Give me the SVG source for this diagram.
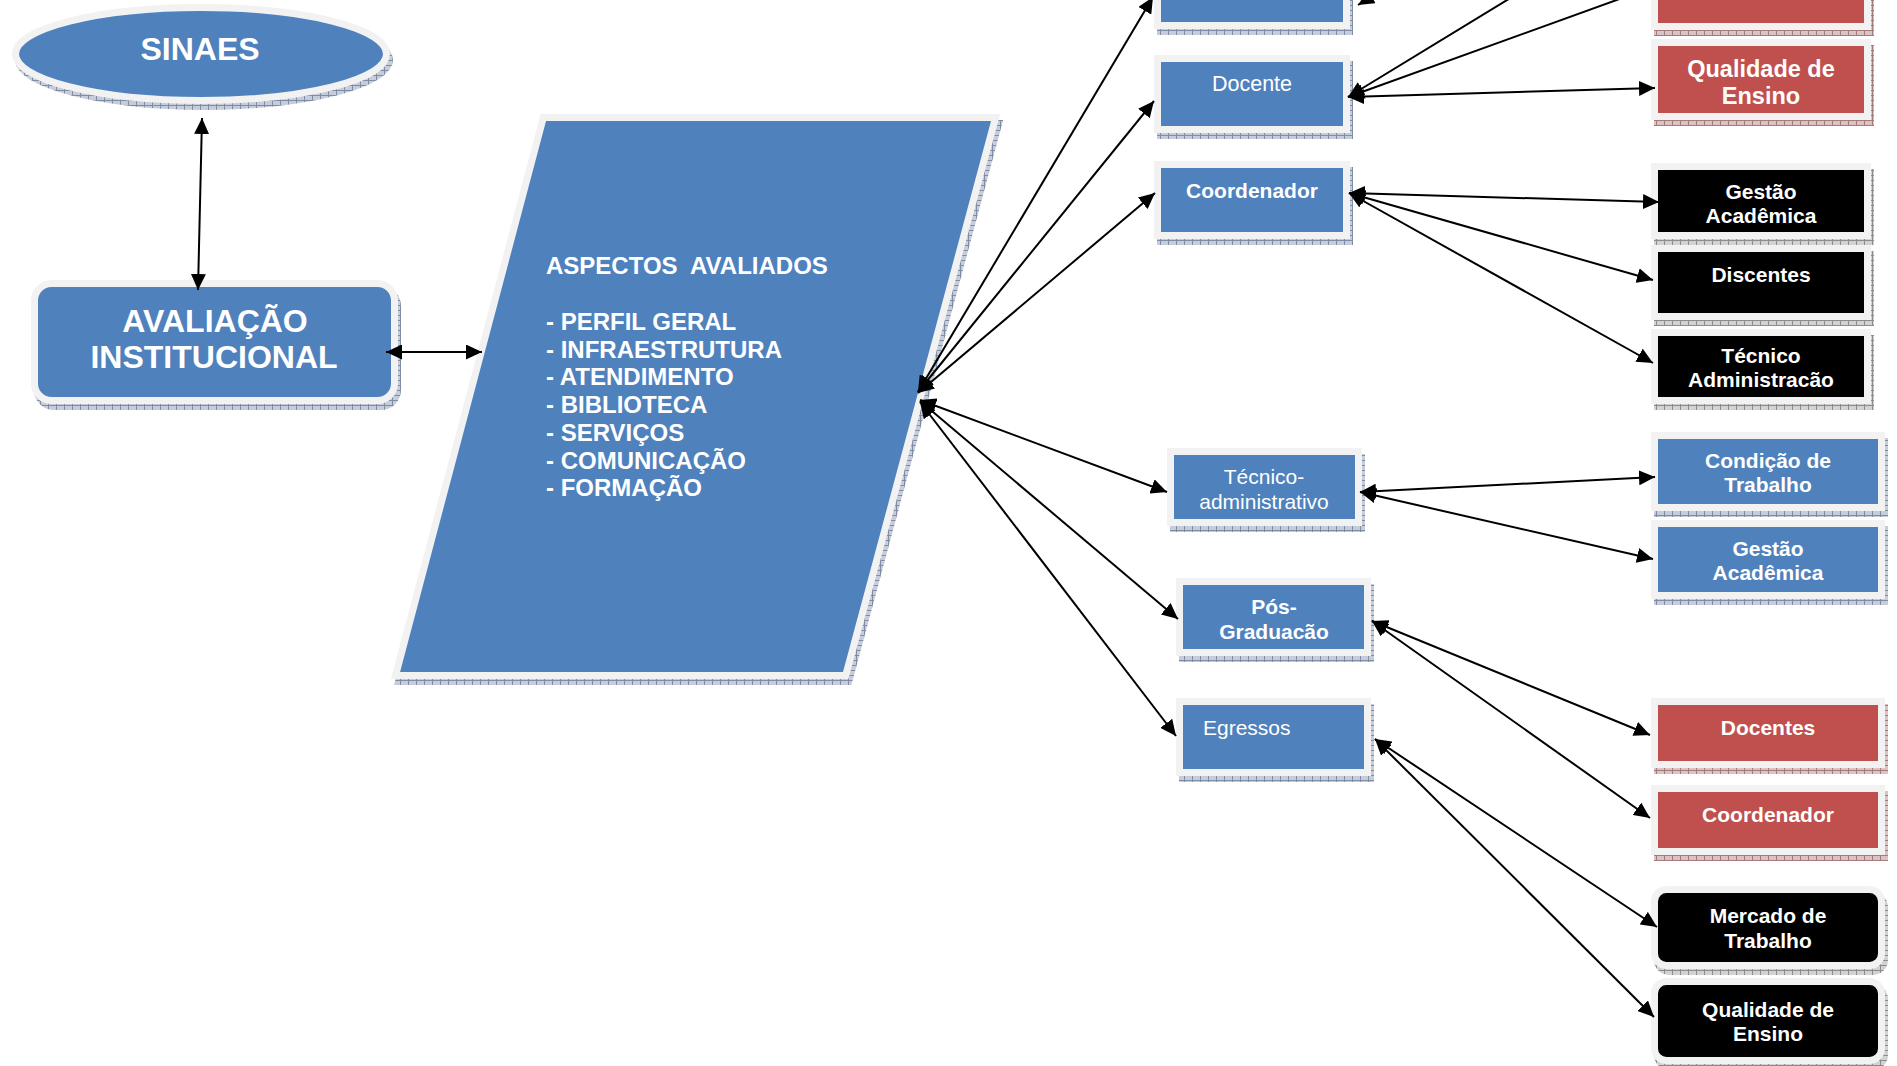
<svg xmlns="http://www.w3.org/2000/svg" width="1897" height="1066" viewBox="0 0 1897 1066">
<defs>
<style>
text{font-family:"Liberation Sans",Arial,sans-serif;fill:#fff;text-anchor:middle}
.b{font-weight:bold}
.s21{font-size:21px}
.bx{stroke:#f2f2f2;stroke-width:7}
.blue{fill:#4f81bd}.red{fill:#c0504d}.blk{fill:#000}
.shb{fill:url(#hb)}.shr{fill:url(#hr)}.shk{fill:url(#hk)}
.c{stroke:#000;stroke-width:2;fill:none;marker-start:url(#ah);marker-end:url(#ah)}
.l{text-anchor:start}
</style>
<pattern id="hb" width="8" height="5" patternUnits="userSpaceOnUse"><rect width="8" height="5" fill="#c6ccd9"/><path d="M0.5,0V5M0,0.5H8" stroke="#7f8ca6" stroke-width="1"/></pattern>
<pattern id="hr" width="8" height="5" patternUnits="userSpaceOnUse"><rect width="8" height="5" fill="#dcc3c3"/><path d="M0.5,0V5M0,0.5H8" stroke="#a67a7a" stroke-width="1"/></pattern>
<pattern id="hk" width="8" height="5" patternUnits="userSpaceOnUse"><rect width="8" height="5" fill="#d2d2d2"/><path d="M0.5,0V5M0,0.5H8" stroke="#8c8c8c" stroke-width="1"/></pattern>
<marker id="ah" viewBox="0 0 16 15" refX="16" refY="7.5" markerWidth="16" markerHeight="15" markerUnits="userSpaceOnUse" orient="auto-start-reverse"><path d="M0,0L16,7.5L0,15z" fill="#000"/></marker>
</defs>

<g id="sinaes">
<ellipse class="shb" cx="204" cy="60" rx="189" ry="50"/>
<ellipse class="bx blue" cx="201" cy="54" rx="185.5" ry="46.5"/>
<text class="b" x="200" y="60" font-size="32">SINAES</text>
</g>

<g id="avaliacao">
<rect class="shb" x="34" y="286" width="367" height="124" rx="20"/>
<rect class="bx blue" x="34.5" y="283.5" width="360" height="117" rx="17"/>
<text class="b" x="215" y="332" font-size="32">AVALIAÇÃO</text>
<text class="b" x="214" y="368" font-size="32">INSTITUCIONAL</text>
</g>

<g id="aspectos">
<polygon class="shb" points="543.6,120 1003.2,120 851.4,685 394,685"/>
<polygon class="bx blue" points="543.3,117.5 995.6,117.5 845.7,675.5 395.5,675.5" stroke-linejoin="miter"/>
<g class="b" font-size="24">
<text class="l" x="546" y="274" style="white-space:pre">ASPECTOS  AVALIADOS</text>
<text class="l" x="546" y="330">- PERFIL GERAL</text>
<text class="l" x="546" y="357.7">- INFRAESTRUTURA</text>
<text class="l" x="546" y="385.4">- ATENDIMENTO</text>
<text class="l" x="546" y="413.1">- BIBLIOTECA</text>
<text class="l" x="546" y="440.8">- SERVIÇOS</text>
<text class="l" x="546" y="468.5">- COMUNICAÇÃO</text>
<text class="l" x="546" y="496.2">- FORMAÇÃO</text>
</g>
</g>

<g id="top-blue">
<rect class="shb" x="1157" y="-47" width="196" height="82"/>
<rect class="bx blue" x="1157.5" y="-49.5" width="189" height="75"/>
</g>
<g id="docente">
<rect class="shb" x="1157" y="61" width="196" height="78"/>
<rect class="bx blue" x="1157.5" y="58.5" width="189" height="71"/>
<text x="1252" y="91" font-size="21.5">Docente</text>
</g>
<g id="coordenador">
<rect class="shb" x="1157" y="167" width="196" height="78"/>
<rect class="bx blue" x="1157.5" y="164.5" width="189" height="71"/>
<text class="b s21" x="1252" y="198">Coordenador</text>
</g>
<g id="tecnico-administrativo">
<rect class="shb" x="1170" y="454" width="195" height="78"/>
<rect class="bx blue" x="1170.5" y="451.5" width="188" height="71"/>
<text class="s21" x="1264" y="484">Técnico-</text>
<text class="s21" x="1264" y="508.5">administrativo</text>
</g>
<g id="pos-graduacao">
<rect class="shb" x="1179" y="584" width="195" height="78"/>
<rect class="bx blue" x="1179.5" y="581.5" width="188" height="71"/>
<text class="b s21" x="1274" y="614">Pós-</text>
<text class="b s21" x="1274" y="638.5">Graduacão</text>
</g>
<g id="egressos">
<rect class="shb" x="1179" y="704" width="195" height="78"/>
<rect class="bx blue" x="1179.5" y="701.5" width="188" height="71"/>
<text class="s21 l" x="1203" y="735">Egressos</text>
</g>

<g id="top-red">
<rect class="shr" x="1654" y="-45" width="220" height="81"/>
<rect class="bx red" x="1654.5" y="-47.5" width="213" height="74"/>
</g>
<g id="qualidade-red">
<rect class="shr" x="1654" y="45" width="220" height="81"/>
<rect class="bx red" x="1654.5" y="42.5" width="213" height="74"/>
<text class="b" x="1761" y="77" font-size="23.5">Qualidade de</text>
<text class="b" x="1761" y="104" font-size="23.5">Ensino</text>
</g>
<g id="gestao-black">
<rect class="shk" x="1654" y="169" width="220" height="76"/>
<rect class="bx blk" x="1654.5" y="166.5" width="213" height="69"/>
<text class="b s21" x="1761" y="199">Gestão</text>
<text class="b s21" x="1761" y="223">Acadêmica</text>
</g>
<g id="discentes">
<rect class="shk" x="1654" y="251" width="220" height="75"/>
<rect class="bx blk" x="1654.5" y="248.5" width="213" height="68"/>
<text class="b s21" x="1761" y="282">Discentes</text>
</g>
<g id="tecnico-administracao">
<rect class="shk" x="1654" y="335" width="220" height="75"/>
<rect class="bx blk" x="1654.5" y="332.5" width="213" height="68"/>
<text class="b s21" x="1761" y="363">Técnico</text>
<text class="b s21" x="1761" y="387">Administracão</text>
</g>
<g id="condicao">
<rect class="shb" x="1654" y="438" width="234" height="79"/>
<rect class="bx blue" x="1654.5" y="435.5" width="227" height="72"/>
<text class="b s21" x="1768" y="467.5">Condição de</text>
<text class="b s21" x="1768" y="492">Trabalho</text>
</g>
<g id="gestao-blue">
<rect class="shb" x="1654" y="526" width="234" height="79"/>
<rect class="bx blue" x="1654.5" y="523.5" width="227" height="72"/>
<text class="b s21" x="1768" y="556">Gestão</text>
<text class="b s21" x="1768" y="580">Acadêmica</text>
</g>
<g id="docentes-red">
<rect class="shr" x="1654" y="704" width="234" height="70"/>
<rect class="bx red" x="1654.5" y="701.5" width="227" height="63"/>
<text class="b s21" x="1768" y="735">Docentes</text>
</g>
<g id="coordenador-red">
<rect class="shr" x="1654" y="791" width="234" height="70"/>
<rect class="bx red" x="1654.5" y="788.5" width="227" height="63"/>
<text class="b s21" x="1768" y="822">Coordenador</text>
</g>
<g id="mercado">
<rect class="shk" x="1654" y="892" width="234" height="83" rx="15"/>
<rect class="bx blk" x="1654.5" y="889.5" width="227" height="76" rx="12"/>
<text class="b s21" x="1768" y="923">Mercado de</text>
<text class="b s21" x="1768" y="948">Trabalho</text>
</g>
<g id="qualidade-black">
<rect class="shk" x="1654" y="984" width="234" height="86" rx="15"/>
<rect class="bx blk" x="1654.5" y="981.5" width="227" height="79" rx="12"/>
<text class="b s21" x="1768" y="1016.5">Qualidade de</text>
<text class="b s21" x="1768" y="1041">Ensino</text>
</g>

<g id="connectors">
<path class="c" d="M202,118L198,290"/>
<path class="c" d="M386,352L482,352"/>
<path class="c" d="M918,392L1153,-3"/>
<path class="c" d="M918,392L1154,101"/>
<path class="c" d="M918,393L1155,193"/>
<path class="c" d="M920,400L1167,492"/>
<path class="c" d="M920,401L1178,619"/>
<path class="c" d="M920,402L1176,736"/>
<path class="c" d="M1348,97L1655,88"/>
<path class="c" d="M1348,97L1576,-42"/>
<path class="c" d="M1348,97L1733,-42"/>
<path class="c" d="M1358,5L1440,-45"/>
<path class="c" d="M1349,193L1659,202"/>
<path class="c" d="M1349,193L1653,280"/>
<path class="c" d="M1349,193L1653,363"/>
<path class="c" d="M1360,492L1655,477"/>
<path class="c" d="M1360,492L1653,559"/>
<path class="c" d="M1372,621L1650,735"/>
<path class="c" d="M1372,621L1650,818"/>
<path class="c" d="M1375,739L1657,927"/>
<path class="c" d="M1375,739L1654,1017"/>
</g>
</svg>
